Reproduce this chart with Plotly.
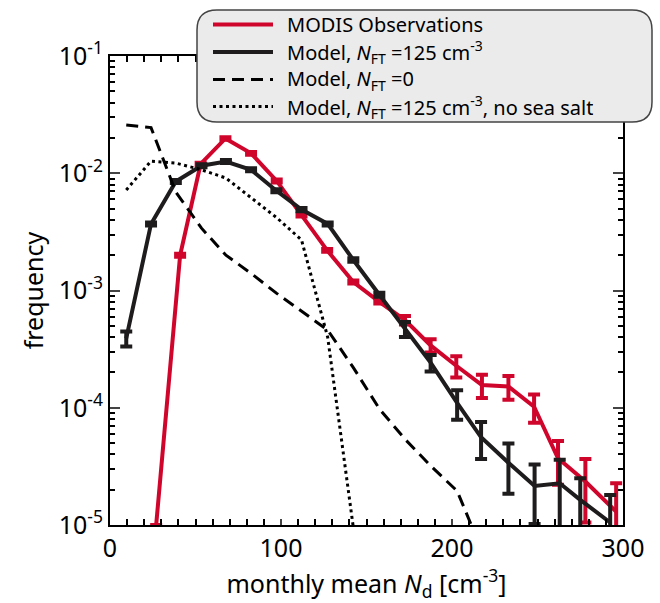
import plotly.graph_objects as go

# ---- data ----
modis_x = [27, 41, 53, 67.5, 82.5, 97.5, 112, 127, 142.3, 157.5, 172.5, 187.5, 202.5, 217.5, 233, 248, 262, 278, 296]
modis_y = [1e-5, 2.0e-3, 1.2e-2, 1.98e-2, 1.48e-2, 8.6e-3, 4.4e-3, 2.2e-3, 1.18e-3, 8.0e-4, 5.6e-4, 3.4e-4,
           2.28e-4, 1.56e-4, 1.52e-4, 1.02e-4, 3.7e-5, 2.35e-5, 1.3e-5]
modis_err = [0, 6e-5, 3e-4, 5e-4, 4e-4, 2.5e-4, 1.3e-4, 6e-5, 3.5e-5, 2.5e-5, 4.7e-5, 4.4e-5,
             4.7e-5, 3.5e-5, 3.5e-5, 2.75e-5, 1.5e-5, 1.3e-5, 0.97e-5]

model_x = [9.5, 24, 38.5, 53.5, 67.8, 82.5, 97.3, 112, 127.3, 142.3, 157.5, 172.5, 187.5, 203, 217, 233, 248.3, 263, 275, 292.5]
model_y = [3.9e-4, 3.7e-3, 8.5e-3, 1.16e-2, 1.26e-2, 1.07e-2, 7.1e-3, 4.9e-3, 3.7e-3, 1.82e-3, 9.2e-4, 4.7e-4,
           2.43e-4, 1.1e-4, 5.6e-5, 3.4e-5, 2.15e-5, 2.27e-5, 1.64e-5, 1.05e-5]
model_err = [5.7e-5, 1.1e-4, 2.5e-4, 3.5e-4, 3.8e-4, 3.2e-4, 2.1e-4, 1.5e-4, 1.1e-4, 6e-5, 3.5e-5, 6.9e-5,
             3.9e-5, 3.1e-5, 1.95e-5, 1.55e-5, 1.13e-5, 1.33e-5, 0.87e-5, 0.75e-5]

nft0_x = [9.5, 24, 38.5, 53.5, 67.8, 82.5, 97.3, 112, 127.3, 142.3, 157.5, 172.5, 187.5, 203, 217]
nft0_y = [2.58e-2, 2.45e-2, 6.9e-3, 3.4e-3, 2.0e-3, 1.4e-3, 9.5e-4, 6.6e-4, 4.6e-4, 2.2e-4, 9.8e-5, 5.4e-5,
          3.2e-5, 1.95e-5, 6.3e-6]

nosalt_x = [9.5, 24, 38.5, 53.5, 67.8, 82.5, 97.3, 112, 127.3, 142.3]
nosalt_y = [7.2e-3, 1.27e-2, 1.22e-2, 1.07e-2, 9.1e-3, 6.2e-3, 4.2e-3, 2.7e-3, 4.0e-4, 9.5e-6]

y_tickvals = [1e-5, 1e-4, 1e-3, 1e-2, 1e-1]
y_ticktext = ["10<sup>-5</sup>", "10<sup>-4</sup>", "10<sup>-3</sup>", "10<sup>-2</sup>", "10<sup>-1</sup>"]
x_tickvals = [0, 100, 200, 300]

legend_names = ["MODIS Observations",
                "Model, <i>N</i><sub>FT</sub> =125 cm<sup>-3</sup>",
                "Model, <i>N</i><sub>FT</sub> =0",
                "Model, <i>N</i><sub>FT</sub> =125 cm<sup>-3</sup>, no sea salt"]

RED = "#D0052C"
BLACK = "#1E1C1D"
FONT = "Noto Sans"

styles = [dict(color=RED, width=4),
          dict(color=BLACK, width=4),
          dict(color="black", width=3, dash="12px,7px"),
          dict(color="black", width=3, dash="3px,3.5px")]

fig = go.Figure()
fig.add_trace(go.Scatter(
    x=modis_x, y=modis_y, mode="lines", name=legend_names[0], line=styles[0],
    error_y=dict(type="data", array=modis_err, color=RED, thickness=4, width=6),
))
fig.add_trace(go.Scatter(
    x=model_x, y=model_y, mode="lines", name=legend_names[1], line=styles[1],
    error_y=dict(type="data", array=model_err, color=BLACK, thickness=4, width=6),
))
fig.add_trace(go.Scatter(x=nft0_x, y=nft0_y, mode="lines", name=legend_names[2], line=styles[2]))
fig.add_trace(go.Scatter(x=nosalt_x, y=nosalt_y, mode="lines", name=legend_names[3], line=styles[3]))

# ---- legend drawn by hand: rounded frame, sample lines, labels (paper coords) ----
L, T, W, H = 110, 56, 513, 469
def px(x):
    return (x - L) / W
def py(y):
    return (T + H - y) / H
x0, x1, y0, y1, r = 197, 652, 10, 122, 20
path = (f"M{px(x0+r)},{py(y0)} L{px(x1-r)},{py(y0)} Q{px(x1)},{py(y0)} {px(x1)},{py(y0+r)} "
        f"L{px(x1)},{py(y1-r)} Q{px(x1)},{py(y1)} {px(x1-r)},{py(y1)} "
        f"L{px(x0+r)},{py(y1)} Q{px(x0)},{py(y1)} {px(x0)},{py(y1-r)} "
        f"L{px(x0)},{py(y0+r)} Q{px(x0)},{py(y0)} {px(x0+r)},{py(y0)} Z")
fig.add_shape(type="path", path=path, xref="paper", yref="paper", layer="above",
              fillcolor="#EBEBEB", line=dict(color="#444444", width=1.5))

row_y = [24.5, 52, 79.5, 106.5]
for name, st, ry in zip(legend_names, styles, row_y):
    fig.add_shape(type="line", xref="paper", yref="paper", layer="above",
                  x0=px(213), x1=px(273), y0=py(ry), y1=py(ry), line=st)
    fig.add_annotation(text=name, xref="paper", yref="paper", x=px(286), y=py(ry),
                       xanchor="left", yanchor="middle", showarrow=False,
                       height=26, valign="middle", borderpad=0,
                       font=dict(family=FONT, size=20, color="black"))

fig.update_layout(
    width=660, height=603,
    margin=dict(l=L, r=660 - L - W, t=T, b=603 - T - H),
    paper_bgcolor="white", plot_bgcolor="white",
    font=dict(family=FONT, size=25, color="black"),
    showlegend=False,
    xaxis=dict(range=[0, 300], tickvals=x_tickvals, ticks="inside", ticklen=6, tickwidth=1.5,
               showline=True, linecolor="black", linewidth=2, mirror="allticks",
               showgrid=False, zeroline=False,
               minor=dict(dtick=10, ticks="inside", ticklen=6, tickwidth=1.5, tickcolor="black", showgrid=False),
               title=dict(text="monthly mean <i>N</i><sub>d</sub> [cm<sup>-3</sup>]", standoff=2,
                          font=dict(size=25)),
               tickfont=dict(size=25)),
    yaxis=dict(type="log", range=[-5, -1], tickvals=y_tickvals, ticktext=y_ticktext,
               ticks="inside", ticklen=10, tickwidth=1.5,
               showline=True, linecolor="black", linewidth=2, mirror="allticks",
               showgrid=False, zeroline=False,
               minor=dict(dtick="D1", ticks="inside", ticklen=5, tickwidth=1.5, tickcolor="black", showgrid=False),
               title=dict(text="frequency", standoff=8, font=dict(size=25)),
               tickfont=dict(size=25)),
)

fig.write_html("out.html")
